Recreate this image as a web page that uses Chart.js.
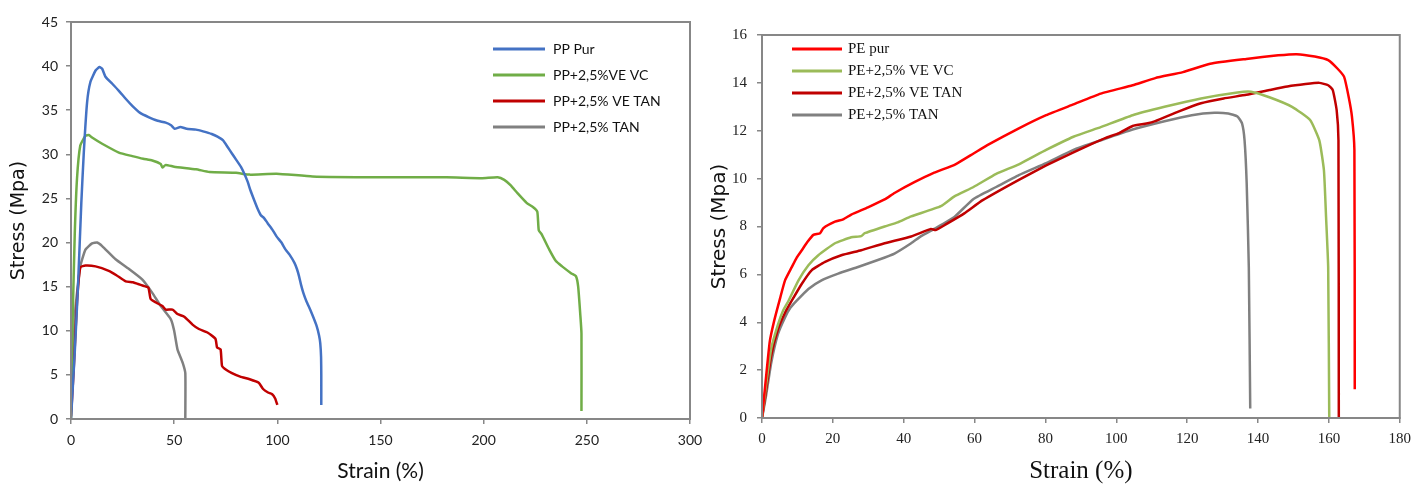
<!DOCTYPE html>
<html>
<head>
<meta charset="utf-8">
<script src="https://cdn.jsdelivr.net/npm/chart.js@4.4.1/dist/chart.umd.min.js"></script>
<style>
  html, body { margin: 0; padding: 0; background: #fff; }
  #wrap { position: relative; width: 1418px; height: 484px; overflow: hidden; }
  #ppChart { position: absolute; left: 0; top: 0; }
  #peChart { position: absolute; left: 700px; top: 0; }
</style>
</head>
<body>
<div id="wrap">
  <canvas id="ppChart" width="720" height="484"></canvas>
  <canvas id="peChart" width="718" height="484"></canvas>
</div>
<script>
// ---- left chart: PP ----
const ppLabels = ["PP Pur", "PP+2,5%VE VC", "PP+2,5% VE TAN", "PP+2,5% TAN"];
const ppColors = ["#4472C4", "#70AD47", "#C00000", "#808080"];

const ppPurStrain = [0, 1.8, 3.4, 5, 6.2, 7.8, 9.4, 11.9, 13.8, 15.1, 16.7, 20, 23.2, 26.5, 29.7, 33.5, 37.8, 42, 45.9, 48.5, 50.2, 53, 56, 60.6, 64, 68.2, 71, 73.6, 76, 78, 80, 82.3, 84, 85.6, 87, 88.8, 90.5, 92, 93.5, 95.3, 97.5, 99.6, 102, 104, 106, 108.3, 109.5, 110.5, 111.5, 112.6, 114, 115.9, 117.5, 119.1, 120.2, 120.8, 121.2, 121.3, 121.3];
const ppPurStress = [0, 7.5, 15.1, 24.5, 30.2, 35.9, 38.2, 39.5, 39.9, 39.7, 38.8, 38, 37.2, 36.3, 35.5, 34.7, 34.2, 33.8, 33.6, 33.3, 32.9, 33.1, 32.9, 32.8, 32.6, 32.3, 32, 31.6, 30.8, 30.1, 29.4, 28.6, 27.8, 26.9, 25.9, 24.8, 23.8, 23.1, 22.8, 22.2, 21.5, 20.7, 20, 19.2, 18.6, 17.7, 17, 16.2, 15.2, 14.3, 13.4, 12.4, 11.5, 10.5, 9.5, 8.6, 7, 5, 1.6];

const ppVcStrain = [0, 0.4, 0.8, 1.8, 2.9, 4.5, 7, 8.6, 10.2, 15.1, 23.2, 29.7, 35, 39.4, 43.5, 44.3, 45.9, 50, 60.6, 67.1, 80, 86.6, 99.6, 117, 149.5, 182, 199.3, 206.8, 210, 213, 216.4, 220.8, 224, 226, 226.7, 228.2, 231.8, 235, 238, 242.5, 244.7, 245.8, 246.9, 247.4, 247.4];
const ppVcStress = [0, 6, 11.3, 20.8, 27.2, 31, 32.1, 32.2, 31.9, 31.2, 30.2, 29.8, 29.5, 29.3, 28.9, 28.5, 28.8, 28.6, 28.3, 28.0, 27.9, 27.7, 27.8, 27.5, 27.4, 27.4, 27.3, 27.4, 27.1, 26.5, 25.6, 24.5, 24, 23.5, 21.4, 20.9, 19.2, 17.9, 17.3, 16.5, 16.2, 15, 11.6, 9.7, 0.9];

const ppVeTanStrain = [0, 1.3, 2.9, 4.5, 7, 11.9, 18.3, 22, 26.5, 30, 32.5, 35, 37.5, 38.6, 41.2, 44.3, 45.9, 49.2, 51.6, 54.9, 58.9, 62, 66.1, 70, 70.8, 72.5, 73.2, 75, 78, 82, 86.6, 91, 93.1, 95.5, 97.5, 99, 100];
const ppVeTanStress = [0.3, 5.6, 13.2, 17.2, 17.4, 17.3, 16.8, 16.3, 15.6, 15.5, 15.3, 15.1, 14.9, 13.6, 13.2, 12.8, 12.4, 12.4, 11.9, 11.6, 10.7, 10.2, 9.8, 9.1, 8.1, 7.9, 6, 5.6, 5.2, 4.8, 4.5, 4.1, 3.4, 3, 2.8, 2.3, 1.6];

const ppTanStrain = [0, 0.5, 2.1, 4.5, 7, 10.2, 12.7, 15.1, 21.6, 28.1, 34.6, 39.4, 43.5, 48.4, 50, 51.6, 54.1, 55.4, 55.4];
const ppTanStress = [1, 3.7, 12.4, 17.3, 19.2, 19.9, 20, 19.6, 18.1, 17, 15.8, 14.3, 12.8, 11.3, 10, 7.9, 6.4, 5.2, 0];

// ---- right chart: PE ----
const peLabels = ["PE pur", "PE+2,5% VE VC", "PE+2,5% VE TAN", "PE+2,5% TAN"];
const peColors = ["#FF0000", "#9BBB59", "#C00000", "#808080"];

const pePurStrain = [0, 1, 2.2, 3.5, 5.1, 6.5, 8.4, 9.8, 11.2, 12.8, 14.5, 16.4, 17.3, 20.6, 22.9, 25.2, 29.9, 34.6, 37.4, 43, 48.6, 54.6, 59.7, 63.6, 72.5, 80.2, 87.9, 95.6, 104.6, 111, 118.8, 126.5, 136.7, 145.7, 150.9, 156, 159.8, 162.4, 164.3, 165.6, 166.5, 167.2, 167.3];
const pePurStress = [0, 1.5, 3.2, 4.1, 5.0, 5.75, 6.3, 6.7, 7.0, 7.35, 7.65, 7.72, 7.93, 8.2, 8.3, 8.5, 8.8, 9.13, 9.4, 9.85, 10.25, 10.6, 11.05, 11.4, 12.1, 12.65, 13.1, 13.55, 13.9, 14.2, 14.45, 14.8, 15, 15.15, 15.2, 15.1, 14.95, 14.6, 14.25, 13.4, 12.6, 11.2, 1.2];

const peVcStrain = [0, 1, 2.6, 4.5, 6, 7.5, 10.3, 13.1, 15.9, 20.6, 25.2, 28, 29, 34.6, 38.3, 42.1, 50.5, 54.3, 59.7, 66.1, 72.5, 80.2, 87.9, 95.6, 104.6, 113.6, 123.9, 134.2, 138, 143.2, 149.6, 154.7, 157.3, 158.6, 159.2, 159.8, 160.1];
const peVcStress = [0, 1.2, 2.9, 3.9, 4.5, 4.9, 5.75, 6.38, 6.8, 7.3, 7.55, 7.6, 7.72, 8.0, 8.17, 8.42, 8.85, 9.26, 9.65, 10.2, 10.6, 11.2, 11.75, 12.15, 12.65, 13, 13.35, 13.6, 13.63, 13.4, 13, 12.45, 11.6, 10.35, 8.4, 6.3, 0];

const peVeTanStrain = [0, 1, 2.6, 4.5, 6.5, 8.4, 11.2, 14, 17.8, 22.4, 28, 34.6, 42.1, 47.7, 49, 52, 57.1, 62.3, 72.5, 80.2, 87.9, 93.1, 97, 100.8, 104.6, 108.5, 111, 117.5, 123.9, 130.3, 136.7, 143.2, 148.3, 153.4, 157.3, 159.8, 161.1, 162.2, 162.7, 162.8];
const peVeTanStress = [0, 1.0, 2.6, 3.7, 4.4, 4.9, 5.6, 6.17, 6.52, 6.8, 7.01, 7.3, 7.58, 7.9, 7.85, 8.1, 8.55, 9.1, 9.95, 10.55, 11.1, 11.45, 11.7, 11.9, 12.2, 12.3, 12.4, 12.8, 13.15, 13.35, 13.5, 13.7, 13.85, 13.95, 14, 13.9, 13.7, 12.85, 11.6, 0];

const peTanStrain = [0, 1, 2.6, 4.5, 6.5, 8, 9.8, 13.1, 16.8, 21.5, 27.1, 32.7, 37.4, 42.1, 44.9, 48.6, 54.3, 59.7, 66.1, 72.5, 80.2, 87.9, 95.6, 104.6, 113.6, 121.3, 127.7, 131.6, 134.2, 135.5, 136.2, 136.8, 137.4, 137.8];
const peTanStress = [0, 0.8, 2.3, 3.5, 4.2, 4.6, 4.9, 5.39, 5.75, 6.03, 6.31, 6.6, 6.87, 7.3, 7.6, 7.9, 8.4, 9.15, 9.65, 10.15, 10.65, 11.2, 11.6, 12.05, 12.4, 12.65, 12.75, 12.72, 12.6, 12.3, 11.6, 9.8, 6.3, 0.4];

function pts(xs, ys) {
  const out = [];
  for (let i = 0; i < Math.min(xs.length, ys.length); i++) out.push({x: xs[i], y: ys[i]});
  return out;
}

function makeSets(labels, colors, series) {
  return series.map((s, i) => ({
    label: labels[i],
    data: pts(s[0], s[1]),
    borderColor: colors[i],
    borderWidth: 2.5,
    pointRadius: 0,
    tension: 0.15,
    fill: false
  }));
}

// frame + in-plot legend
const framePlugin = {
  id: "frame",
  afterDraw(chart, args, opts) {
    const ctx = chart.ctx, a = chart.chartArea;
    ctx.save();
    ctx.strokeStyle = "#878787";
    ctx.lineWidth = 2;
    ctx.strokeRect(a.left, a.top, a.right - a.left, a.bottom - a.top);
    // legend
    ctx.font = opts.font;
    ctx.textBaseline = "middle";
    chart.data.datasets.forEach((ds, i) => {
      const y = opts.y + i * opts.gap;
      ctx.strokeStyle = ds.borderColor;
      ctx.lineWidth = 3;
      ctx.beginPath();
      ctx.moveTo(opts.x, y);
      ctx.lineTo(opts.x + opts.len, y);
      ctx.stroke();
      ctx.fillStyle = "#111";
      ctx.fillText(ds.label, opts.x + opts.len + opts.textGap, y);
    });
    ctx.restore();
  }
};

function axisOpts(min, max, step, title, tickFont, titleFont, titlePad, tickPad, fixedSize, isX) {
  return {
    type: "linear",
    min: min, max: max,
    ticks: { stepSize: step, color: "#222", font: tickFont, padding: tickPad },
    grid: { display: true, drawOnChartArea: false, drawTicks: true, tickLength: 5, color: "#878787", lineWidth: 1.5 },
    border: { display: true, color: "#878787", width: 2 },
    title: { display: true, text: title, color: "#111", font: titleFont, padding: titlePad },
    afterFit(scale) {
      if (isX) scale.height = fixedSize; else scale.width = fixedSize;
    }
  };
}

new Chart(document.getElementById("ppChart"), {
  type: "line",
  data: {
    datasets: makeSets(ppLabels, ppColors, [
      [ppPurStrain, ppPurStress],
      [ppVcStrain, ppVcStress],
      [ppVeTanStrain, ppVeTanStress],
      [ppTanStrain, ppTanStress]
    ])
  },
  options: {
    responsive: false,
    devicePixelRatio: 1,
    animation: false,
    layout: { padding: { top: 22, right: 30, bottom: 0, left: 0 } },
    plugins: {
      legend: { display: false },
      tooltip: { enabled: false },
      frame: { x: 493, y: 49, gap: 26, len: 52, textGap: 8, font: "14px Lato" }
    },
    scales: {
      x: axisOpts(0, 300, 50, "Strain (%)", { family: "Lato", size: 14 },
        { family: "Lato", size: 21, lineHeight: 1 }, { top: 0, bottom: 2 }, 8, 65, true),
      y: axisOpts(0, 45, 5, "Stress (Mpa)", { family: "Lato", size: 14 },
        { family: "DejaVu Sans", size: 19, lineHeight: 1 }, { top: 10, bottom: 0 }, 8, 71, false)
    }
  },
  plugins: [framePlugin]
});

new Chart(document.getElementById("peChart"), {
  type: "line",
  data: {
    datasets: makeSets(peLabels, peColors, [
      [pePurStrain, pePurStress],
      [peVcStrain, peVcStress],
      [peVeTanStrain, peVeTanStress],
      [peTanStrain, peTanStress]
    ])
  },
  options: {
    responsive: false,
    devicePixelRatio: 1,
    animation: false,
    layout: { padding: { top: 35, right: 14, bottom: 0, left: 0 } },
    plugins: {
      legend: { display: false },
      tooltip: { enabled: false },
      frame: { x: 92, y: 49, gap: 22, len: 50, textGap: 6, font: "15px 'Liberation Serif'" }
    },
    scales: {
      x: axisOpts(0, 180, 20, "Strain (%)", { family: "Liberation Serif", size: 15 },
        { family: "Liberation Serif", size: 25, lineHeight: 1 }, { top: 0, bottom: 0 }, 7, 66, true),
      y: axisOpts(0, 16, 2, "Stress (Mpa)", { family: "Liberation Serif", size: 15 },
        { family: "DejaVu Sans", size: 20, lineHeight: 1 }, { top: 10, bottom: 0 }, 10, 62, false)
    }
  },
  plugins: [framePlugin]
});
</script>
</body>
</html>
